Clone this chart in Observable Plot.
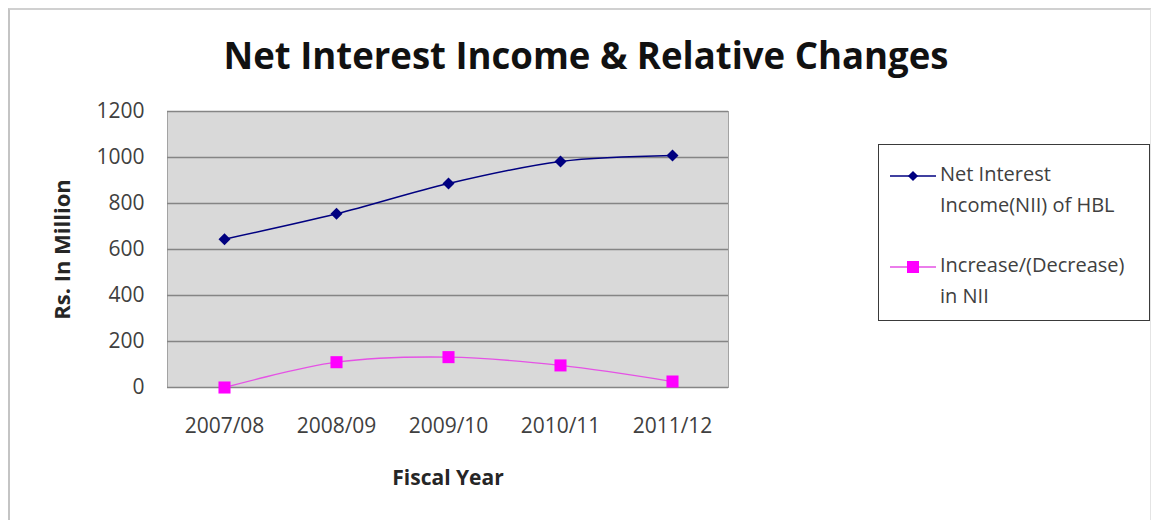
<!DOCTYPE html>
<html>
<head>
<meta charset="utf-8">
<script src="https://cdn.jsdelivr.net/npm/d3@7"></script>
<script src="https://cdn.jsdelivr.net/npm/@observablehq/plot@0.6"></script>
<style>
  html, body { margin: 0; padding: 0; background: #fff; }
  #wrap { position: relative; width: 1152px; height: 520px; overflow: hidden; background: #fff; font-family: "Open Sans", sans-serif; }
  #border { position: absolute; left: 8px; top: 8px; width: 1140px; height: 520px; border-left: 2px solid #c4c4c4; border-top: 2px solid #d0d0d0; border-right: 1px solid #e4e4e4; }
  #chart { position: absolute; left: 0; top: 0; }
  #legend { position: absolute; left: 878px; top: 144px; width: 272px; height: 177px; border: 1.5px solid #3a3a3a; box-sizing: border-box; background: #fff; }
  .item { position: absolute; left: 10px; display: flex; align-items: flex-start; }
  .item svg { flex: none; margin-top: 5px; }
  .item .txt { font-size: 20px; line-height: 31px; color: #404040; margin-left: 3px; margin-top: -3px; }
</style>
</head>
<body>
<div id="wrap">
  <div id="border"></div>
  <div id="chart"></div>
  <div id="legend"></div>
</div>
<script>
const title = "Net Interest Income & Relative Changes";
const years = ["2007/08", "2008/09", "2009/10", "2010/11", "2011/12"];
const nii = [645, 755, 887, 983, 1009];
const change = [0, 110, 132, 96, 26];
const yTicks = [0, 200, 400, 600, 800, 1000, 1200];
const seriesNames = ["Net Interest Income(NII) of HBL", "Increase/(Decrease) in NII"];
const legendLines = [["Net Interest", "Income(NII) of HBL"], ["Increase/(Decrease)", "in NII"]];
const yLabel = "Rs. In Million";
const xLabel = "Fiscal Year";

const niiData = years.map((y, i) => ({year: y, value: nii[i]}));
const chgData = years.map((y, i) => ({year: y, value: change[i]}));

const navy = "#000080";
const magenta = "#ff00ff";
const magentaLine = "#e552e5";

const chart = Plot.plot({
  width: 1152,
  height: 520,
  marginLeft: 167,
  marginRight: 424,
  marginTop: 111,
  marginBottom: 133,
  style: {fontFamily: "Open Sans", background: "transparent", overflow: "visible"},
  x: {type: "point", domain: years, padding: 0.5},
  y: {domain: [0, 1200]},
  marks: [
    Plot.frame({fill: "#d9d9d9", stroke: "#a3a3a3", strokeWidth: 1}),
    Plot.gridY(yTicks, {stroke: "#858585", strokeOpacity: 1, strokeWidth: 1.6}),
    Plot.axisY(yTicks, {tickSize: 0, tickPadding: 23, fontSize: 21, color: "#404040", label: null, tickFormat: d => String(d)}),
    Plot.axisX({tickSize: 0, tickPadding: 31, fontSize: 21, color: "#404040", label: null}),
    Plot.line(chgData, {x: "year", y: "value", stroke: magentaLine, strokeWidth: 1.3, curve: "catmull-rom"}),
    Plot.dot(chgData, {x: "year", y: "value", symbol: "square", r: 6.8, fill: magenta, stroke: "none"}),
    Plot.line(niiData, {x: "year", y: "value", stroke: navy, strokeWidth: 1.5, curve: "catmull-rom"}),
    Plot.dot(niiData, {x: "year", y: "value", symbol: "diamond2", r: 5.4, fill: navy, stroke: "none"}),
    Plot.text([yLabel], {text: d => d, frameAnchor: "left", textAnchor: "middle", lineAnchor: "middle", dx: -105, rotate: -90, fontSize: 22, fontWeight: "bold", fill: "#262626"}),
    Plot.text([xLabel], {text: d => d, frameAnchor: "bottom", lineAnchor: "middle", dy: 91, fontSize: 21, fontWeight: "bold", fill: "#262626"}),
    Plot.text([title], {text: d => d, frameAnchor: "top", dx: 138, dy: -43, lineAnchor: "bottom", fontSize: 38, fontWeight: "bold", fill: "#111"})
  ]
});
document.getElementById("chart").appendChild(chart);

// fit title to its width in the reference
d3.select(chart).selectAll("text").filter(function() { return this.textContent === title; })
  .attr("textLength", 725).attr("lengthAdjust", "spacingAndGlyphs");

// legend
const legend = d3.select("#legend");
const tops = [16, 107];
seriesNames.forEach((name, i) => {
  const item = legend.append("div").attr("class", "item").style("top", tops[i] + "px").attr("title", name);
  const svg = item.append("svg").attr("width", 48).attr("height", 20);
  svg.append("line").attr("x1", 1).attr("x2", 47).attr("y1", 10).attr("y2", 10)
    .attr("stroke", i === 0 ? navy : magentaLine).attr("stroke-width", 1.5);
  if (i === 0) {
    svg.append("path").attr("d", d3.symbol(d3.symbolDiamond2, Math.PI * 4.6 * 4.6)()).attr("transform", "translate(24,10)").attr("fill", navy);
  } else {
    svg.append("rect").attr("x", 18).attr("y", 4).attr("width", 12).attr("height", 12).attr("fill", magenta);
  }
  const txt = item.append("div").attr("class", "txt");
  legendLines[i].forEach(l => txt.append("div").text(l));
});
</script>
</body>
</html>
